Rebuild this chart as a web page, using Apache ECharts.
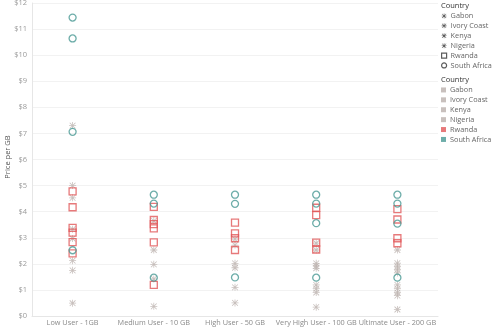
<!DOCTYPE html>
<html>
<head>
<meta charset="utf-8">
<script src="https://cdn.jsdelivr.net/npm/echarts@6/dist/echarts.min.js"></script>
<style>
  html, body { margin: 0; padding: 0; background: #fff; }
  #chart { width: 500px; height: 328px; }
</style>
</head>
<body>
<div id="chart"></div>
<script>
// Plan tiers shown along the x axis
const categories = ['Low User - 1GB', 'Medium User - 10 GB', 'High User - 50 GB', 'Very High User - 100 GB', 'Ultimate User - 200 GB'];
const yTicks = [0, 1, 2, 3, 4, 5, 6, 7, 8, 9, 10, 11, 12];

// Price per GB (USD) for each operator plan, one inner list per tier
const gabon = [[7.30, 3.33], [3.65], [2.95], [2.79, 1.19], [2.53, 1.19]];
const ivoryCoast = [[5.00, 2.12], [2.53], [2.72, 1.10], [2.53, 1.05], [2.03, 1.05]];
const kenya = [[4.53, 1.75], [1.98, 1.42], [2.02, 1.85], [2.02, 1.92, 0.90], [1.90, 1.78, 0.90]];
const nigeria = [[2.97, 0.49], [0.37], [0.50], [1.83, 0.34], [1.65, 0.78, 0.25]];
const rwanda = [[4.78, 4.17, 3.38, 3.20, 2.83, 2.40], [4.18, 3.68, 3.52, 3.36, 2.82, 1.19], [3.58, 3.17, 2.98, 2.53], [4.15, 3.87, 2.81, 2.55], [4.10, 3.70, 2.98, 2.79]];
const southAfrica = [[11.44, 10.64, 7.06, 2.52], [4.65, 4.31, 1.47], [4.65, 4.30, 1.48], [4.65, 4.31, 3.56, 1.47], [4.65, 4.31, 3.54, 1.47]];

// Asterisk marker: four thin bars crossing at the centre
const asterisk = 'path://M4.45,0H5.55V10H4.45Z M0,4.45H10V5.55H0Z M1.3,0.5L9.5,8.7L8.7,9.5L0.5,1.3Z M8.7,0.5L9.5,1.3L1.3,9.5L0.5,8.7Z';

const GRAY = '#bab0ac', RED = '#e15759', TEAL = '#499894';
const FONT = 'Open Sans';

const countries = [
  { name: 'Gabon', values: gabon, shape: asterisk, color: GRAY },
  { name: 'Ivory Coast', values: ivoryCoast, shape: asterisk, color: GRAY },
  { name: 'Kenya', values: kenya, shape: asterisk, color: GRAY },
  { name: 'Nigeria', values: nigeria, shape: asterisk, color: GRAY },
  { name: 'Rwanda', values: rwanda, shape: 'rect', color: RED },
  { name: 'South Africa', values: southAfrica, shape: 'circle', color: TEAL }
];

function toPoints(values) {
  const pts = [];
  values.forEach((list, i) => list.forEach(v => pts.push([i, v])));
  return pts;
}

const series = countries.map(c => {
  const hollow = c.shape !== asterisk;
  return {
    name: c.name,
    type: 'scatter',
    data: toPoints(c.values),
    symbol: c.shape,
    symbolSize: 7,
    itemStyle: hollow
      ? { color: 'rgba(255,255,255,0)', borderColor: c.color, borderWidth: 1.3 }
      : { color: c.color },
    emphasis: { disabled: true },
    silent: true
  };
});

const chart = echarts.init(document.getElementById('chart'), null, { renderer: 'canvas' });
chart.setOption({
  animation: false,
  backgroundColor: '#fff',
  grid: { left: 32, right: 62, top: 3, bottom: 12, containLabel: false, outerBoundsMode: 'none' },
  xAxis: {
    type: 'category',
    data: categories,
    boundaryGap: true,
    axisLine: { show: true, lineStyle: { color: '#e6e6e6', width: 1 } },
    axisTick: { show: false },
    axisLabel: { color: '#8a8a8a', fontSize: 7.3, fontFamily: FONT, margin: 3, interval: 0, hideOverlap: false },
    splitLine: { show: false }
  },
  yAxis: {
    type: 'value',
    min: yTicks[0],
    max: yTicks[yTicks.length - 1],
    interval: 1,
    axisLine: { show: true, lineStyle: { color: '#e6e6e6' } },
    axisTick: { show: false },
    axisLabel: {
      color: '#9a9a9a', fontSize: 7.5, fontFamily: FONT, margin: 5,
      formatter: v => '$' + v
    },
    splitLine: { show: true, lineStyle: { color: '#f2f2f2', width: 1 } }
  },
  legend: [
    {
      orient: 'vertical', left: 441, top: 11, itemWidth: 5, itemHeight: 5, itemGap: 0,
      selectedMode: false, padding: 0,
      textStyle: { color: '#666', fontSize: 7.3, fontFamily: FONT, lineHeight: 9.9, padding: [0, 0, 0, -1] },
      data: countries.map(c => ({
        name: c.name,
        icon: c.shape,
        itemStyle: c.shape === asterisk
          ? { color: '#333', borderWidth: 0 }
          : { color: '#fff', borderColor: '#333', borderWidth: 1.2 }
      }))
    },
    {
      orient: 'vertical', left: 441, top: 85, itemWidth: 5, itemHeight: 5, itemGap: 0,
      selectedMode: false, padding: 0,
      textStyle: { color: '#666', fontSize: 7.3, fontFamily: FONT, lineHeight: 9.9, padding: [0, 0, 0, -1] },
      data: countries.map(c => ({
        name: c.name,
        icon: 'rect',
        itemStyle: { color: c.color, borderWidth: 0 }
      }))
    }
  ],
  graphic: [
    { type: 'text', left: 441, top: 2, style: { text: 'Country', fill: '#333', fontSize: 7.5, fontFamily: FONT } },
    { type: 'text', left: 441, top: 76, style: { text: 'Country', fill: '#333', fontSize: 7.5, fontFamily: FONT } },
    {
      type: 'text', x: 8, y: 157, rotation: Math.PI / 2,
      style: { text: 'Price per GB', fill: '#555', fontSize: 7.5, fontFamily: FONT, align: 'center', verticalAlign: 'middle' }
    }
  ],
  series: series
});
</script>
</body>
</html>
